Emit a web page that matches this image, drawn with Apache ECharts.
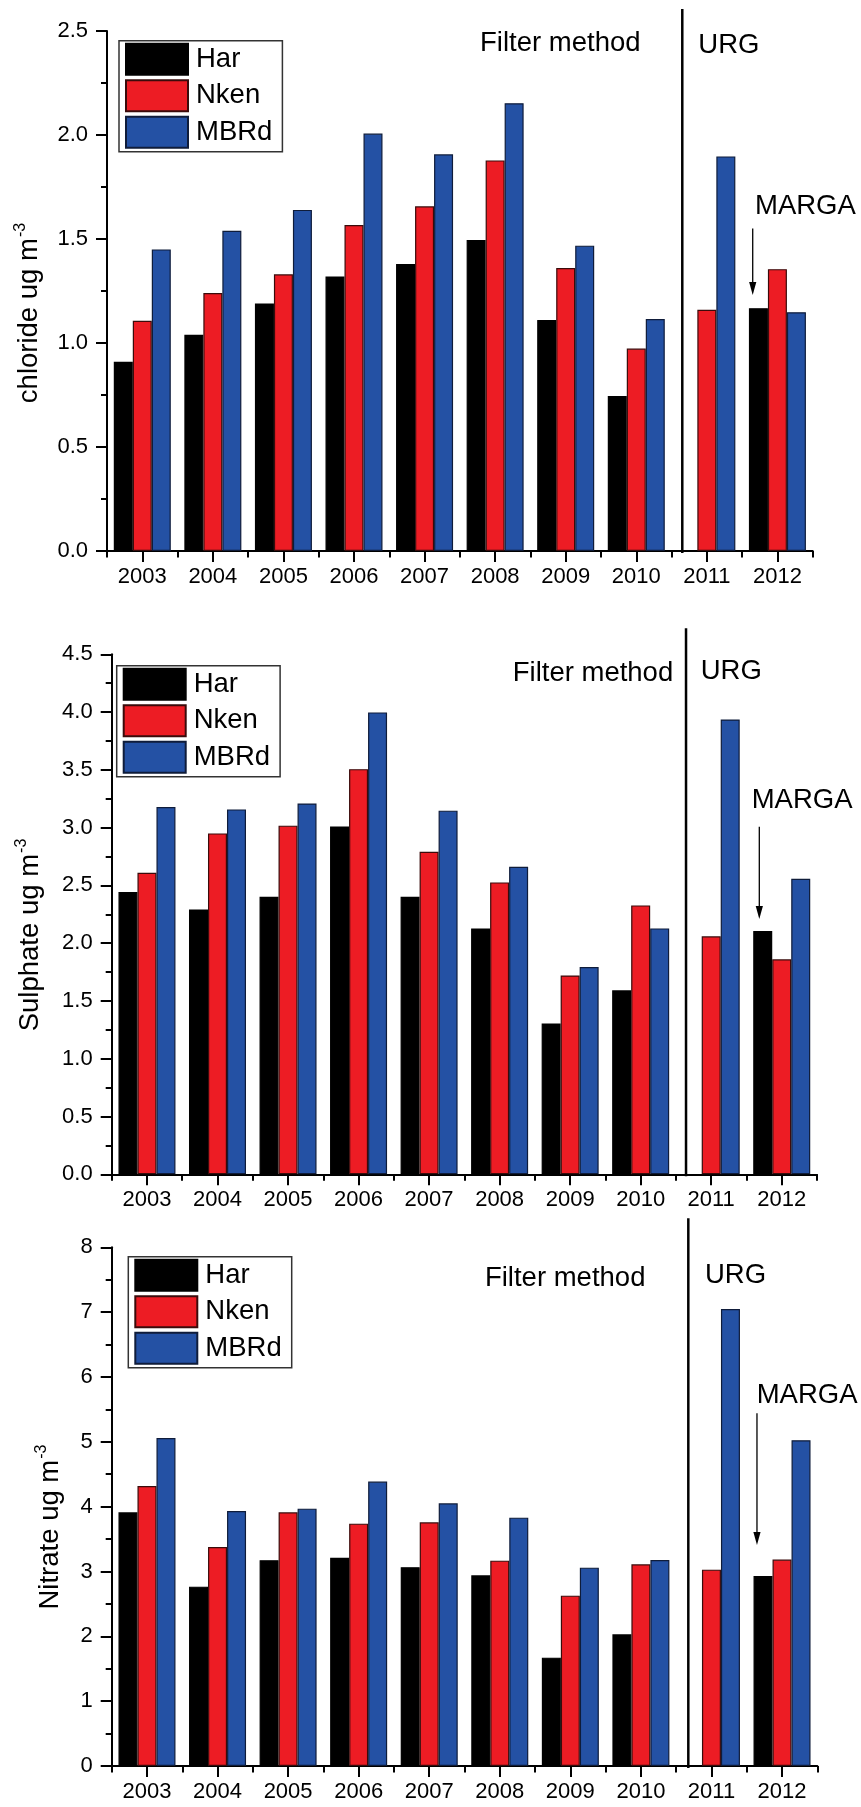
<!DOCTYPE html>
<html>
<head>
<meta charset="utf-8">
<title>Chloride, sulphate and nitrate 2003-2012</title>
<script src="https://cdn.jsdelivr.net/npm/echarts@6/dist/echarts.min.js"></script>
<style>
  html, body { margin: 0; padding: 0; background: #fff; }
  #chart { width: 861px; height: 1807px; }
</style>
</head>
<body>
<div id="chart"></div>
<script>
// Annual mean concentrations (ug m-3) at three sites
const years = ['2003', '2004', '2005', '2006', '2007', '2008', '2009', '2010', '2011', '2012'];
const siteNames = ['Har', 'Nken', 'MBRd'];

const chlorideHar  = [0.91, 1.04, 1.19, 1.32, 1.38, 1.495, 1.11, 0.745, null, 1.167];
const chlorideNken = [1.107, 1.24, 1.33, 1.567, 1.657, 1.878, 1.36, 0.973, 1.16, 1.355];
const chlorideMBRd = [1.45, 1.54, 1.64, 2.007, 1.907, 2.153, 1.468, 1.115, 1.897, 1.148];

const sulphateHar  = [2.442, 2.292, 2.401, 3.01, 2.401, 2.128, 1.306, 1.592, null, 2.105];
const sulphateNken = [2.609, 2.95, 3.017, 3.506, 2.791, 2.526, 1.721, 2.327, 2.059, 1.86];
const sulphateMBRd = [3.178, 3.158, 3.209, 3.997, 3.147, 2.661, 1.793, 2.128, 3.936, 2.557];

const nitrateHar  = [3.913, 2.766, 3.173, 3.213, 3.065, 2.941, 1.671, 2.031, null, 2.931];
const nitrateNken = [4.319, 3.378, 3.913, 3.738, 3.759, 3.167, 2.627, 3.111, 3.028, 3.183];
const nitrateMBRd = [5.059, 3.933, 3.969, 4.386, 4.052, 3.83, 3.059, 3.178, 7.049, 5.024];

// y-axis ranges
const yMax = [2.5, 4.5, 8];
const yStep = [0.5, 0.5, 1];
const yDecimals = [1, 1, 0];

const panels = [
  { values: [chlorideHar, chlorideNken, chlorideMBRd], label: 'chloride' },
  { values: [sulphateHar, sulphateNken, sulphateMBRd], label: 'Sulphate' },
  { values: [nitrateHar, nitrateNken, nitrateMBRd], label: 'Nitrate' }
];

const colors = ['#000000', '#ED1C24', '#2451A4'];
const borders = ['#000000', '#3a0b0b', '#0f1c3a'];
const FONT = '"Liberation Sans", Arial, Helvetica, sans-serif';
const BIG = 27.5;   // annotation / legend / axis-title size
const SUP = 16;     // superscript size

const grids = [
  { left: 107,   top: 31,     width: 705.7, height: 520 },
  { left: 111.7, top: 654.3,  width: 705.3, height: 520 },
  { left: 111.7, top: 1247.3, width: 705.6, height: 518.7 }
];

const legendPos = [
  { left: 119,   top: 40.7 },
  { left: 116.7, top: 665.7 },
  { left: 128.3, top: 1256.7 }
];

const xAxes = [], yAxes = [], series = [], legends = [];

grids.forEach((g, i) => {
  // labelled axis with ticks under each year
  xAxes.push({
    type: 'category', gridIndex: i, data: years, position: 'bottom',
    axisLine: { show: true, lineStyle: { color: '#000', width: 2 } },
    axisTick: { show: true, alignWithLabel: true, length: 11, lineStyle: { color: '#000', width: 2 } },
    axisLabel: { color: '#000', fontSize: 22, fontFamily: FONT, margin: 15 },
    splitLine: { show: false }
  });
  // short ticks on the category boundaries
  xAxes.push({
    type: 'category', gridIndex: i, data: years, position: 'bottom',
    axisLine: { show: false },
    axisTick: { show: true, length: 6.5, lineStyle: { color: '#000', width: 2 } },
    axisLabel: { show: false },
    splitLine: { show: false }
  });
  // continuous helper axis for placing annotations between categories
  xAxes.push({ type: 'value', gridIndex: i, position: 'bottom', min: 0, max: 10, show: false });

  yAxes.push({
    type: 'value', gridIndex: i, min: 0, max: yMax[i], interval: yStep[i],
    axisLine: { show: true, lineStyle: { color: '#000', width: 2 } },
    axisTick: { show: true, length: 11, lineStyle: { color: '#000', width: 2 } },
    minorTick: { show: true, splitNumber: 2, length: 6, lineStyle: { color: '#000', width: 2 } },
    axisLabel: {
      color: '#000', fontSize: 22, fontFamily: FONT, margin: 19,
      formatter: v => v.toFixed(yDecimals[i])
    },
    splitLine: { show: false }
  });

  siteNames.forEach((name, s) => {
    series.push({
      type: 'bar', name: name,
      xAxisIndex: i * 3, yAxisIndex: i,
      data: panels[i].values[s],
      barWidth: 19, barGap: '0%',
      itemStyle: { color: colors[s], borderColor: borders[s], borderWidth: 1.2 },
      emphasis: { disabled: true }
    });
  });

  legends.push({
    data: siteNames, orient: 'vertical', icon: 'rect',
    left: legendPos[i].left, top: legendPos[i].top,
    itemWidth: 62, itemHeight: 31, itemGap: 3.5,
    padding: [2, 10, 3, 6],
    borderColor: '#333', borderWidth: 1.5, backgroundColor: '#fff',
    textStyle: { color: '#000', fontSize: BIG, fontFamily: FONT, padding: [0, 0, 0, 3] },
    selectedMode: false
  });
});

const chart = echarts.init(document.getElementById('chart'), null, { renderer: 'canvas' });
chart.setOption({
  animation: false,
  backgroundColor: '#fff',
  grid: grids,
  xAxis: xAxes,
  yAxis: yAxes,
  legend: legends,
  series: series
});

// Annotations in axis units: x on the 0..10 helper axis, y on the value axis
const notes = [
  { divider: [8.152, 2.606], filter: [5.286, 2.442], urg: [8.379, 2.433], marga: [9.182, 1.655], arrow: [9.150, 1.551, 1.231] },
  { divider: [8.143, 4.725], filter: [5.686, 4.335], urg: [8.351, 4.349], marga: [9.074, 3.239], arrow: [9.182, 3.008, 2.209] },
  { divider: [8.172, 8.447], filter: [5.290, 7.522], urg: [8.408, 7.572], marga: [9.141, 5.722], arrow: [9.145, 5.440, 3.408] }
];
// axis titles: centre of the rotated text
const titlePos = [[29, 313], [30, 935], [50, 1527]];

const px = (i, xv) => chart.convertToPixel({ xAxisIndex: i * 3 + 2 }, xv);
const py = (i, yv) => chart.convertToPixel({ yAxisIndex: i }, yv);

const measureCtx = document.createElement('canvas').getContext('2d');
function textWidth(t, size) {
  measureCtx.font = size + 'px ' + FONT;
  return measureCtx.measureText(t).width;
}

const plain = (t, size, align) => ({
  text: t, fill: '#000', fontSize: size, fontFamily: FONT, align: align, verticalAlign: 'middle'
});

const elements = [];
notes.forEach((n, i) => {
  const dx = px(i, n.divider[0]);
  elements.push({
    type: 'line', silent: true,
    shape: { x1: dx, y1: py(i, n.divider[1]), x2: dx, y2: py(i, 0) + 2 },
    style: { stroke: '#000', lineWidth: 2.5 }
  });
  [['Filter method', n.filter], ['URG', n.urg], ['MARGA', n.marga]].forEach(([t, p]) => {
    elements.push({ type: 'text', silent: true, x: px(i, p[0]), y: py(i, p[1]), style: plain(t, BIG, 'left') });
  });
  const ax = px(i, n.arrow[0]);
  const ay1 = py(i, n.arrow[1]);
  const ay2 = py(i, n.arrow[2]);
  elements.push({
    type: 'line', silent: true,
    shape: { x1: ax, y1: ay1, x2: ax, y2: ay2 - 12 },
    style: { stroke: '#000', lineWidth: 1.3 }
  });
  elements.push({
    type: 'polygon', silent: true,
    shape: { points: [[ax - 3.6, ay2 - 13], [ax + 3.6, ay2 - 13], [ax, ay2]] },
    style: { fill: '#000' }
  });

  // vertical axis title, read bottom to top, with a raised "-3"
  const main = panels[i].label + ' ug m';
  const wMain = textWidth(main, BIG);
  const wSup = textWidth('-3', SUP);
  const total = wMain + 1 + wSup;
  const [cx, cy] = titlePos[i];
  const start = cy + total / 2;
  elements.push({
    type: 'text', silent: true, x: cx, y: start, rotation: Math.PI / 2,
    style: plain(main, BIG, 'left')
  });
  elements.push({
    type: 'text', silent: true, x: cx - 8, y: start - wMain - 1, rotation: Math.PI / 2,
    style: plain('-3', SUP, 'left')
  });
});

chart.setOption({ graphic: { elements: elements } });
</script>
</body>
</html>
